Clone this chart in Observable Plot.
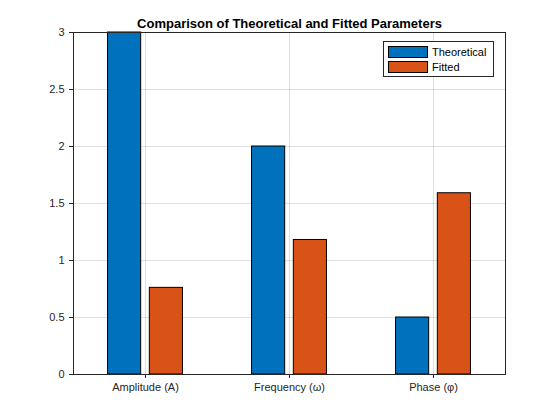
<!DOCTYPE html>
<html><head>
<script src="https://cdn.jsdelivr.net/npm/d3@7"></script>
<script src="https://cdn.jsdelivr.net/npm/@observablehq/plot@0.6"></script>
<style>
body{margin:0;background:#fff;font-family:"Liberation Sans",Arial,sans-serif}
#wrap{position:relative;width:560px;height:420px}
#legend{position:absolute;left:383px;top:41px;width:109px;background:#fff;border:1px solid #262626;font-size:11px;color:#000;padding:2px 0}
#legend div{display:flex;align-items:center;height:15px}
#legend span{display:inline-block;width:38px;height:10px;margin:0 4px 0 4px;border:1px solid #000}
</style>
</head><body>
<div id="wrap"><div id="chart"></div>
<div id="legend">
<div><span style="background:#0072BD"></span>Theoretical</div>
<div><span style="background:#D95319"></span>Fitted</div>
</div></div>
<script>
const params = ["Amplitude (A)", "Frequency (\u03c9)", "Phase (\u03c6)"];
const theoretical = [3, 2, 0.5];
const fitted = [0.76, 1.18, 1.59];
const series = ["Theoretical", "Fitted"];
const colors = ["#0072BD", "#D95319"];

const rows = [];
params.forEach((p, i) => {
  rows.push({g: i + 1, s: "Theoretical", v: theoretical[i], off: -0.145});
  rows.push({g: i + 1, s: "Fitted", v: fitted[i], off: 0.145});
});

const chart = Plot.plot({
  width: 560, height: 420,
  marginLeft: 73, marginRight: 55, marginTop: 32, marginBottom: 46,
  style: {fontFamily: "Liberation Sans, Arial, sans-serif", fontSize: "11px", color: "#262626"},
  x: {domain: [0.5, 3.5], ticks: [1, 2, 3], tickFormat: d => params[d - 1], label: null, tickSize: 4, grid: false},
  y: {domain: [0, 3], ticks: d3.range(0, 3.01, 0.5), tickFormat: d => String(d), label: null, tickSize: 4},
  color: {domain: series, range: colors},
  marks: [
    Plot.gridX([1, 2, 3], {stroke: "#262626", strokeOpacity: 0.15}),
    Plot.gridY(d3.range(0, 3.01, 0.5), {stroke: "#262626", strokeOpacity: 0.15}),
    Plot.rectY(rows, {x1: d => d.g + d.off - 0.115, x2: d => d.g + d.off + 0.115, y: "v", fill: "s", stroke: "#000", strokeWidth: 1}),
    Plot.frame({stroke: "#262626"}),
    Plot.text(["Comparison of Theoretical and Fitted Parameters"], {frameAnchor: "top", dy: -14, fontWeight: "bold", fontSize: 13, fill: "#000"})
  ]
});
d3.select("#chart").append(() => chart);
</script>
</body></html>
